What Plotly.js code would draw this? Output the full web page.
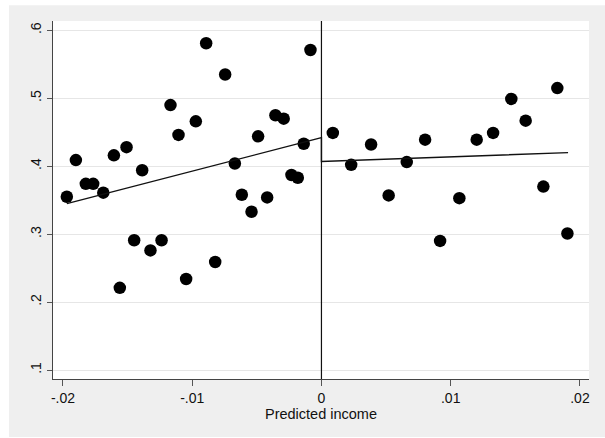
<!DOCTYPE html>
<html>
<head>
<meta charset="utf-8">
<script src="https://cdn.plot.ly/plotly-3.0.1.min.js"></script>
<style>html,body{margin:0;padding:0;background:#fff;}#chart{width:605px;height:438px;}</style>
</head>
<body>
<div id="chart"></div>
<script>
// Binned scatter: predicted income vs outcome
const binX = [-0.0197,-0.0190,-0.01823,-0.01766,-0.01688,-0.01606,-0.01508,-0.01387,-0.01449,-0.01323,
  -0.01237,-0.0156,-0.01168,-0.01106,-0.01047,-0.00892,-0.00745,-0.00085,-0.00972,-0.00356,
  -0.00292,-0.0049,-0.00137,-0.0067,-0.00232,-0.00183,-0.00616,-0.0042,-0.00541,-0.00822,
  0.00088,0.0023,0.00384,0.0052,0.0066,0.00802,0.00918,0.01067,0.01201,0.01328,
  0.01469,0.0158,0.01717,0.01825,0.01903];
const binY = [0.355,0.409,0.374,0.374,0.361,0.416,0.428,0.394,0.291,0.276,
  0.291,0.221,0.490,0.446,0.234,0.581,0.535,0.571,0.466,0.475,
  0.470,0.444,0.433,0.404,0.387,0.383,0.358,0.354,0.333,0.259,
  0.449,0.402,0.432,0.357,0.406,0.439,0.290,0.353,0.439,0.449,
  0.499,0.467,0.370,0.515,0.301];
// Fitted lines on each side of the cutoff
const fitX = [-0.0197, 0, 0, 0.01908];
const fitY = [0.345, 0.442, 0.407, 0.420];
const cutoff = 0;
const xTickVals = [-0.02,-0.01,0,0.01,0.02];
const xTickText = ['-.02','-.01','0','.01','.02'];
const yTickVals = [0.1,0.2,0.3,0.4,0.5,0.6];
const yTickText = ['.1','.2','.3','.4','.5','.6'];
const xTitle = 'Predicted income';

const font = 'Liberation Sans, Arial, sans-serif';
const traces = [
  {x: binX, y: binY, type: 'scatter', mode: 'markers',
   marker: {color: '#000', size: 12.5, line: {width: 0}}, hoverinfo: 'skip'},
  {x: fitX, y: fitY, type: 'scatter', mode: 'lines',
   line: {color: '#111', width: 1.4}, hoverinfo: 'skip'}
];
const layout = {
  width: 605, height: 438,
  margin: {l: 53, r: 16, t: 21, b: 59, pad: 0},
  paper_bgcolor: '#EFEFEF', plot_bgcolor: '#fff',
  showlegend: false,
  font: {family: font, size: 14, color: '#111'},
  xaxis: {range: [-0.02077, 0.0207], tickvals: xTickVals, ticktext: xTickText,
    showgrid: false, zeroline: false, showline: true, linecolor: '#444', linewidth: 1,
    ticks: 'outside', ticklen: 6, tickcolor: '#555', tickwidth: 1,
    tickfont: {size: 14, color: '#111'},
    title: {text: xTitle, font: {size: 14.5, color: '#111'}, standoff: 4}},
  yaxis: {range: [0.0868, 0.6137], tickvals: yTickVals, ticktext: yTickText,
    showgrid: true, gridcolor: '#E6E6E6', gridwidth: 1, zeroline: false,
    showline: true, linecolor: '#444', linewidth: 1,
    ticks: 'outside', ticklen: 5, tickcolor: '#555', tickwidth: 1,
    tickangle: -90, tickfont: {size: 14, color: '#111'}},
  shapes: [
    {type: 'line', xref: 'x', yref: 'paper', x0: cutoff, x1: cutoff, y0: 0, y1: 1,
     line: {color: '#111', width: 1.2}},
    {type: 'rect', xref: 'paper', yref: 'paper', x0: -0.3, x1: 1.3, y0: 1.0438, y1: 1.3,
     fillcolor: '#fff', line: {width: 0}, layer: 'below'},
    {type: 'rect', xref: 'paper', yref: 'paper', x0: -0.3, x1: -0.0821, y0: -0.3, y1: 1.3,
     fillcolor: '#fff', line: {width: 0}, layer: 'below'},
    {type: 'rect', xref: 'paper', yref: 'paper', x0: -0.3, x1: 1.3, y0: -0.3, y1: -0.1619,
     fillcolor: '#fff', line: {width: 0}, layer: 'below'}
  ]
};
Plotly.newPlot('chart', traces, layout, {staticPlot: true, displayModeBar: false});
</script>
</body>
</html>
